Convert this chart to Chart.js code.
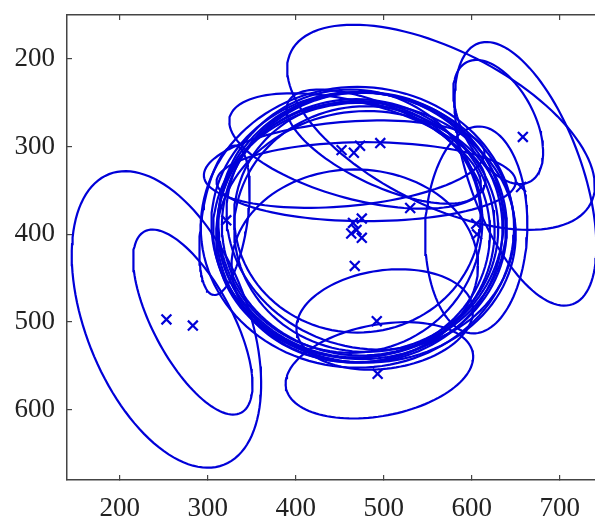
<!DOCTYPE html>
<html>
<head>
<meta charset="utf-8">
<script src="https://cdn.jsdelivr.net/npm/chart.js@4.4.0/dist/chart.umd.min.js"></script>
<style>
  html, body { margin: 0; padding: 0; background: #fff; }
</style>
</head>
<body>
<canvas id="chart" width="595" height="521"></canvas>
<script>
// ---- axis ticks ----
const xTicks = [200, 300, 400, 500, 600, 700];
const yTicks = [200, 300, 400, 500, 600];

// ---- component means (the x marks) ----
const meanX = [253, 283, 321, 452, 466, 473, 496, 658, 530, 605, 606, 465, 475, 469, 475, 463, 467, 492, 493, 656];
const meanY = [497, 504, 384, 304, 307, 299, 296, 289, 370, 388, 400, 387, 382, 395, 404, 399, 436, 499, 559, 346];

// ---- covariance ellipses: centre, semi axes, tilt in degrees (y axis points down) ----
const ellCx    = [253, 283, 319, 565, 661, 630, 470, 472, 476, 466, 480, 462, 474, 485, 470, 478, 467, 470, 455, 500, 480, 605, 501, 495, 473, 468];
const ellCy    = [497, 500, 384, 278, 331, 272, 392, 390, 388, 395, 394, 385, 400, 385, 380, 398, 436, 305, 320, 300, 340, 395, 497, 555, 392, 396];
const ellA     = [178, 117,  86, 191, 158,  77, 178, 168, 160, 155, 150, 150, 165, 165, 140, 172, 140, 150, 160, 120, 170, 118, 101, 108, 162, 158];
const ellB     = [ 92,  45,  26,  88,  64,  41, 160, 152, 150, 145, 140, 150, 140, 145, 132, 148, 110,  55,  48,  45,  45,  58,  56,  52, 154, 150];
const ellAngle = [68.5, 62, 98.4, 27, 70.2, 62.2, 0, 5, -5, 10, 0, 0, -8, 15, 0, 3, 0, 15, -5, 25, 0, 92, -8, -10.7, 6, -3];

const BLUE = "#0000d8";

// outline of one ellipse in data units
function ellipsePoints(i) {
  const pts = [];
  const th = ellAngle[i] * Math.PI / 180;
  const c = Math.cos(th), s = Math.sin(th);
  for (let k = 0; k <= 120; k++) {
    const t = (k / 120) * 2 * Math.PI;
    const u = ellA[i] * Math.cos(t), v = ellB[i] * Math.sin(t);
    pts.push({ x: ellCx[i] + u * c - v * s, y: ellCy[i] + u * s + v * c });
  }
  return pts;
}

const datasets = ellCx.map((_, i) => ({
  data: ellipsePoints(i),
  showLine: true,
  borderColor: BLUE,
  borderWidth: 2.2,
  pointRadius: 0,
  fill: false,
  tension: 0
}));

datasets.push({
  data: meanX.map((x, i) => ({ x: x, y: meanY[i] })),
  showLine: false,
  pointStyle: "crossRot",
  pointRadius: 7,
  pointBorderWidth: 2.2,
  borderColor: BLUE,
  backgroundColor: BLUE
});

const tickFont = { family: "'Liberation Serif', 'DejaVu Serif', serif", size: 27 };
const frame = { display: true, color: "#444", width: 1.5 };

// the chart area has to sit on fixed pixels, so drop the label padding
function noPad(s) {
  s.paddingTop = 0; s.paddingBottom = 0; s.paddingLeft = 0; s.paddingRight = 0;
}

new Chart(document.getElementById("chart"), {
  type: "scatter",
  data: { datasets: datasets },
  options: {
    responsive: false,
    animation: false,
    layout: { padding: 0, autoPadding: false },
    plugins: { legend: { display: false }, tooltip: { enabled: false } },
    scales: {
      x: {
        type: "linear",
        position: "bottom",
        min: 140,
        max: 740,
        afterBuildTicks: s => { s.ticks = xTicks.map(v => ({ value: v })); },
        afterFit: s => { s.height = 41; noPad(s); },
        ticks: { font: tickFont, color: "#222", padding: 18, autoSkip: false, maxRotation: 0 },
        grid: { drawOnChartArea: false, drawTicks: true, tickLength: -5, color: "#444", lineWidth: 1.2 },
        border: frame
      },
      xTop: {
        type: "linear",
        position: "top",
        min: 140,
        max: 740,
        afterBuildTicks: s => { s.ticks = xTicks.map(v => ({ value: v })); },
        afterFit: s => { s.height = 15; noPad(s); },
        ticks: { display: false },
        grid: { drawOnChartArea: false, drawTicks: true, tickLength: -5, color: "#444", lineWidth: 1.2 },
        border: frame
      },
      y: {
        type: "linear",
        position: "left",
        reverse: true,
        min: 150,
        max: 680,
        afterBuildTicks: s => { s.ticks = yTicks.map(v => ({ value: v })); },
        afterFit: s => { s.width = 67; noPad(s); },
        ticks: { font: tickFont, color: "#222", padding: 17, autoSkip: false },
        grid: { drawOnChartArea: false, drawTicks: true, tickLength: -5, color: "#444", lineWidth: 1.2 },
        border: frame
      }
    }
  }
});
</script>
</body>
</html>
